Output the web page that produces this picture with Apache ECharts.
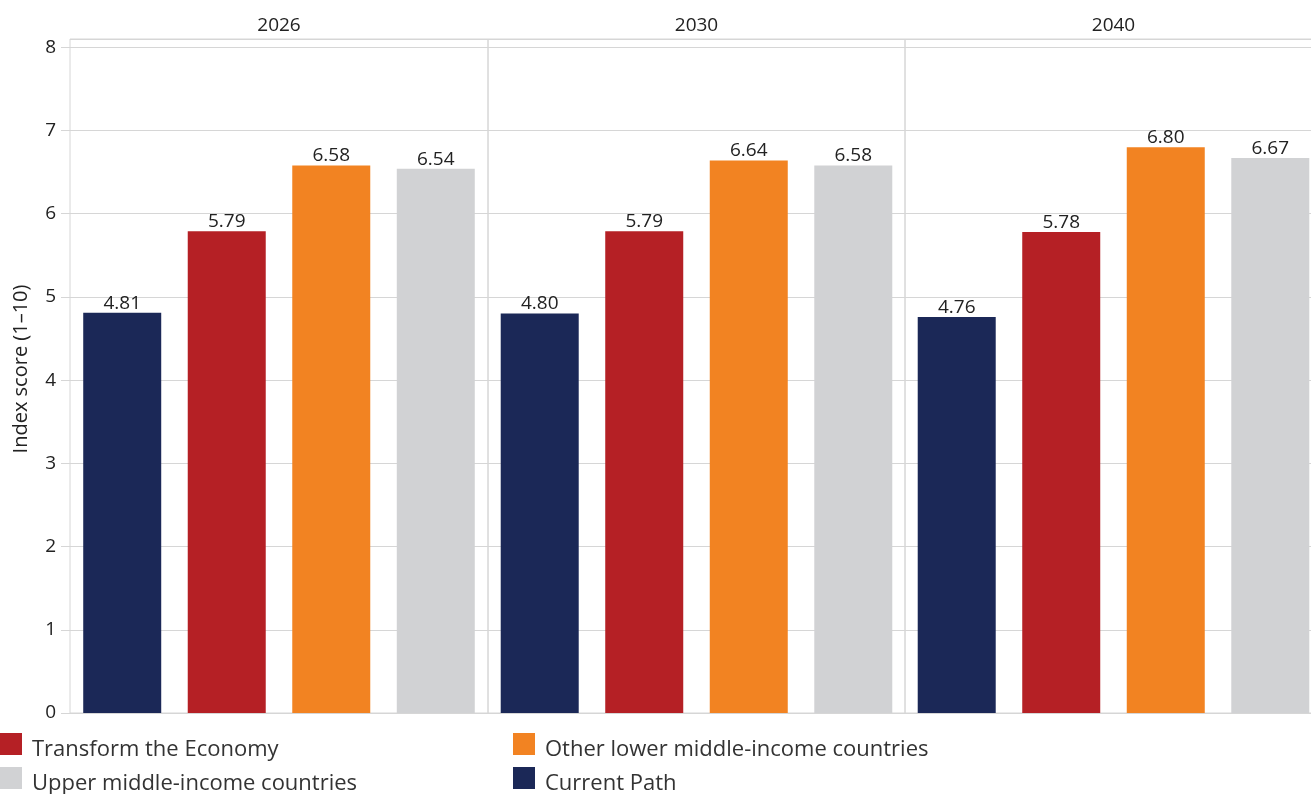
<!DOCTYPE html>
<html><head><meta charset="utf-8">
<script src="https://cdn.jsdelivr.net/npm/echarts@6/dist/echarts.min.js"></script>
<style>html,body{margin:0;padding:0;background:#fff}#c{width:1311px;height:794px}</style>
</head><body><div id="c"></div>
<script>
const years = ['2026', '2030', '2040'];
const seriesNames = ['Current Path', 'Transform the Economy', 'Other lower middle-income countries', 'Upper middle-income countries'];
const currentPath = [4.81, 4.80, 4.76];
const transformEconomy = [5.79, 5.79, 5.78];
const otherLowerMiddle = [6.58, 6.64, 6.80];
const upperMiddle = [6.54, 6.58, 6.67];
const yTicks = [0, 1, 2, 3, 4, 5, 6, 7, 8];

const colors = ['#1b2857', '#b52025', '#f28322', '#d1d2d4'];
const valuesBySeries = [currentPath, transformEconomy, otherLowerMiddle, upperMiddle];
const FONT = '"Open Sans", "Noto Sans", sans-serif';
const gridPos = [{left: 70, width: 418}, {left: 488, width: 417}, {left: 905, width: 417}];
const lineColor = '#d6d6d6';

const grids = [], xAxes = [], yAxes = [], series = [];
years.forEach((yr, i) => {
  grids.push(Object.assign({top: 39, height: 674, show: true, borderColor: lineColor, borderWidth: 1,
    backgroundColor: 'transparent', containLabel: false, outerBoundsMode: 'none'}, gridPos[i]));
  xAxes.push({type: 'category', gridIndex: i, position: 'top', data: [yr],
    axisLine: {show: false}, axisTick: {show: false},
    axisLabel: {margin: 4, fontSize: 19, color: '#222', fontFamily: FONT}});
  yAxes.push({type: 'value', gridIndex: i, min: 0, max: 8.1, interval: 1,
    name: i === 0 ? 'Index score (1–10)' : '', nameLocation: 'middle', nameRotate: 90, nameGap: 39,
    nameTextStyle: {fontSize: 20, color: '#222', fontFamily: FONT, padding: [0, 0, 0, 14]},
    axisLine: {show: false},
    axisTick: {show: i === 0, length: 9, lineStyle: {color: lineColor}},
    axisLabel: {show: i === 0, margin: 14, fontSize: 19, color: '#222', fontFamily: FONT, showMaxLabel: false,
      formatter: v => yTicks.includes(v) ? String(v) : ''},
    splitLine: {show: true, lineStyle: {color: lineColor, width: 1}}});
  seriesNames.forEach((nm, s) => {
    series.push({type: 'bar', name: nm, xAxisIndex: i, yAxisIndex: i,
      data: [valuesBySeries[s][i]], barWidth: 78, barGap: '34%',
      itemStyle: {color: colors[s]},
      label: {show: true, position: 'top', distance: 0, fontSize: 19, color: '#222', fontFamily: FONT,
        formatter: p => p.value.toFixed(2)}});
  });
});

const legendBase = {orient: 'horizontal', padding: 0, icon: 'rect', itemWidth: 22, itemHeight: 22,
  formatter: name => '{t|' + name + '}',
  textStyle: {fontSize: 22, color: '#333', fontFamily: FONT,
    rich: {t: {fontSize: 22, color: '#333', fontFamily: FONT, padding: [12, 0, 0, 5]}}},
  selectedMode: false};
const legends = [
  Object.assign({}, legendBase, {left: 0, top: 733, data: [seriesNames[1]]}),
  Object.assign({}, legendBase, {left: 513, top: 733, data: [seriesNames[2]]}),
  Object.assign({}, legendBase, {left: 0, top: 767, data: [seriesNames[3]]}),
  Object.assign({}, legendBase, {left: 513, top: 767, data: [seriesNames[0]]})
];

const chart = echarts.init(document.getElementById('c'), null, {renderer: 'canvas'});
chart.setOption({
  animation: false,
  backgroundColor: '#fff',
  color: colors,
  grid: grids, xAxis: xAxes, yAxis: yAxes, series: series, legend: legends
});
</script></body></html>
